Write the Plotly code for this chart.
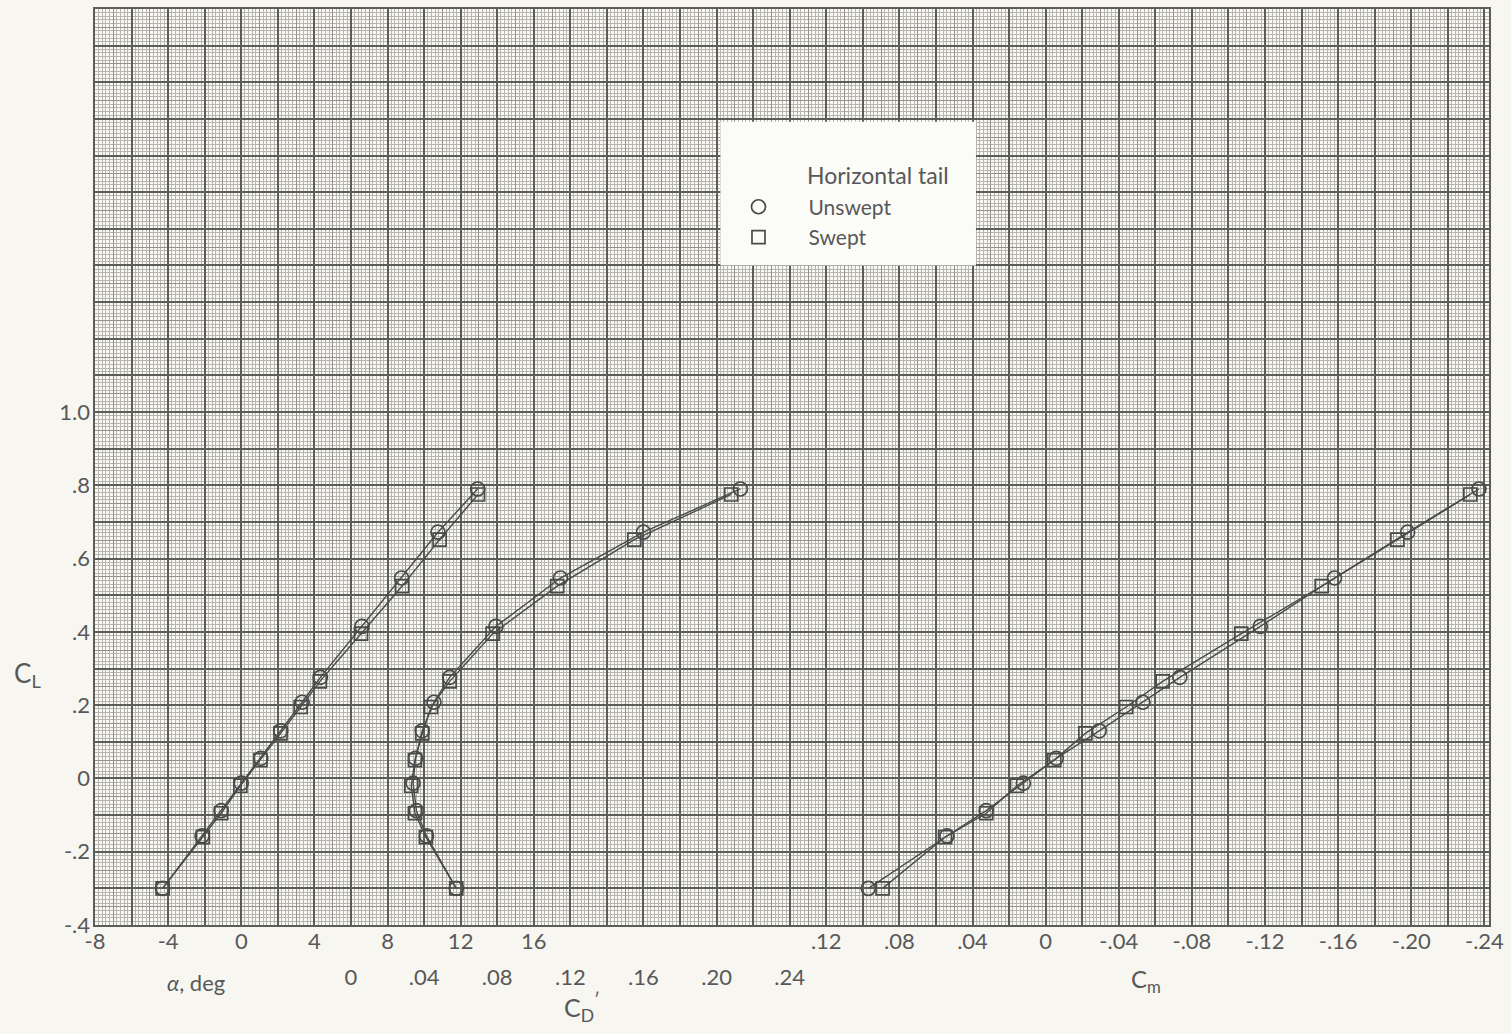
import plotly.graph_objects as go

# ---------------- data ----------------
cl_unswept = [-0.30, -0.157, -0.088, -0.013, 0.055, 0.130, 0.208, 0.276, 0.415, 0.547, 0.672, 0.790]
alpha_unswept = [-4.3, -2.14, -1.10, 0.00, 1.07, 2.16, 3.33, 4.33, 6.60, 8.77, 10.76, 12.93]
cd_unswept = [0.0576, 0.0413, 0.0358, 0.0340, 0.0353, 0.0390, 0.0454, 0.0540, 0.0793, 0.1146, 0.1600, 0.2130]
cm_unswept = [0.0970, 0.0540, 0.0325, 0.0122, -0.0058, -0.0293, -0.0532, -0.0734, -0.1174, -0.1580, -0.1980, -0.2370]

cl_swept = [-0.30, -0.160, -0.095, -0.020, 0.050, 0.123, 0.195, 0.265, 0.395, 0.525, 0.652, 0.775]
alpha_swept = [-4.3, -2.10, -1.10, -0.05, 1.05, 2.15, 3.25, 4.30, 6.55, 8.80, 10.85, 12.95]
cd_swept = [0.0576, 0.0410, 0.0350, 0.0330, 0.0350, 0.0390, 0.0438, 0.0540, 0.0775, 0.1128, 0.1550, 0.2080]
cm_swept = [0.0892, 0.0550, 0.0325, 0.0157, -0.0047, -0.0217, -0.0440, -0.0640, -0.1070, -0.1510, -0.1924, -0.2323]

alpha_ticks = [-8, -4, 0, 4, 8, 12, 16]
alpha_labels = ["-8", "-4", "0", "4", "8", "12", "16"]
cd_ticks = [0, 0.04, 0.08, 0.12, 0.16, 0.20, 0.24]
cd_labels = ["0", ".04", ".08", ".12", ".16", ".20", ".24"]
cm_ticks = [0.12, 0.08, 0.04, 0, -0.04, -0.08, -0.12, -0.16, -0.20, -0.24]
cm_labels = [".12", ".08", ".04", "0", "-.04", "-.08", "-.12", "-.16", "-.20", "-.24"]
cl_ticks = [-0.4, -0.2, 0, 0.2, 0.4, 0.6, 0.8, 1.0]
cl_labels = ["-.4", "-.2", "0", ".2", ".4", ".6", ".8", "1.0"]

# ---------------- scales ----------------
ALPHA_RANGE = [-8, 68.25]
CD_ZERO_AT_ALPHA = 6.0      # C_D' = 0 sits on alpha = 6 deg grid line
CM_ZERO_AT_ALPHA = 44.0     # C_m = 0 sits on alpha = 44 deg grid line
cd_range = [(a - CD_ZERO_AT_ALPHA) / 100 for a in ALPHA_RANGE]
cm_range = [(CM_ZERO_AT_ALPHA - a) / 100 for a in ALPHA_RANGE]
CL_RANGE = [-0.4, 2.1]

W, H = 1511, 1034
ML, MR, MT, MB = 95, 14, 7, 109
PW, PH = W - ML - MR, H - MT - MB


def px(x):
    return (x - ML) / PW


def py(y):
    return (H - MB - y) / PH


INK = "#4a4a4a"
TXT = "#585858"
FONT = "Lato, 'Noto Sans', sans-serif"

fig = go.Figure()

line_style = dict(color=INK, width=1.4)
mk_c = dict(symbol="circle-open", size=14, color=INK, line=dict(width=1.7, color=INK))
mk_s = dict(symbol="square-open", size=13, color=INK, line=dict(width=1.7, color=INK))

# alpha curves
fig.add_trace(go.Scatter(x=alpha_unswept, y=cl_unswept, mode="lines+markers", line=line_style,
                         marker=mk_c, showlegend=False, xaxis="x", yaxis="y"))
fig.add_trace(go.Scatter(x=alpha_swept, y=cl_swept, mode="lines+markers", line=line_style,
                         marker=mk_s, showlegend=False, xaxis="x", yaxis="y"))
# drag curves
fig.add_trace(go.Scatter(x=cd_unswept, y=cl_unswept, mode="lines+markers", line=line_style,
                         marker=mk_c, showlegend=False, xaxis="x2", yaxis="y"))
fig.add_trace(go.Scatter(x=cd_swept, y=cl_swept, mode="lines+markers", line=line_style,
                         marker=mk_s, showlegend=False, xaxis="x2", yaxis="y"))
# moment curves
fig.add_trace(go.Scatter(x=cm_unswept, y=cl_unswept, mode="lines+markers", line=line_style,
                         marker=mk_c, showlegend=False, xaxis="x3", yaxis="y"))
fig.add_trace(go.Scatter(x=cm_swept, y=cl_swept, mode="lines+markers", line=line_style,
                         marker=mk_s, showlegend=False, xaxis="x3", yaxis="y"))
# grid-only overlay subplot (heavy + medium lines of the graph paper)
fig.add_trace(go.Scatter(x=[], y=[], showlegend=False, xaxis="x4", yaxis="y2", hoverinfo="skip"))

# legend entries (markers only)
fig.add_trace(go.Scatter(x=[None], y=[None], mode="markers", marker=mk_c, name="Unswept"))
fig.add_trace(go.Scatter(x=[None], y=[None], mode="markers", marker=mk_s, name="Swept"))

FINE = "#b6b5ae"
MED = "#92918c"
HEAVY = "#5c5c58"
tickfont = dict(family=FONT, size=22, color=TXT)

fig.update_layout(
    width=W, height=H, autosize=False,
    margin=dict(l=ML, r=MR, t=MT, b=MB, pad=0),
    paper_bgcolor="#f7f6f1",
    plot_bgcolor="#f9f8f4",
    font=dict(family=FONT, color=TXT),
    xaxis=dict(range=ALPHA_RANGE, tickmode="array", tickvals=alpha_ticks, ticktext=alpha_labels,
               showgrid=False, zeroline=False, ticks="", tickfont=tickfont, ticklabelstandoff=1,
               showline=False, ticklabeloverflow="allow",
               minor=dict(dtick=0.2, tick0=0, showgrid=True, gridcolor=FINE, gridwidth=0.7, ticks="")),
    xaxis2=dict(range=cd_range, overlaying="x", anchor="y", side="bottom", tickmode="array",
                tickvals=cd_ticks, ticktext=cd_labels, showgrid=False, zeroline=False, ticks="",
                tickfont=tickfont, ticklabelstandoff=37, showline=False, ticklabeloverflow="allow"),
    xaxis3=dict(range=cm_range, overlaying="x", anchor="y", side="bottom", tickmode="array",
                tickvals=cm_ticks, ticktext=cm_labels, showgrid=False, zeroline=False, ticks="",
                tickfont=tickfont, ticklabelstandoff=1, showline=False, ticklabeloverflow="allow"),
    xaxis4=dict(range=ALPHA_RANGE, overlaying="x", anchor="y2", dtick=2, tick0=0, showgrid=True,
                gridcolor=HEAVY, gridwidth=1.5, showticklabels=False, zeroline=False, ticks="",
                showline=True, mirror=True, linecolor=HEAVY, linewidth=1.5,
                minor=dict(dtick=1, tick0=0, showgrid=True, gridcolor=MED, gridwidth=1.0, ticks="")),
    yaxis=dict(range=CL_RANGE, tickmode="array", tickvals=cl_ticks, ticktext=cl_labels,
               showgrid=False, zeroline=False, ticks="", tickfont=tickfont, ticklabelstandoff=4,
               showline=False, ticklabeloverflow="allow",
               minor=dict(dtick=0.01, tick0=0, showgrid=True, gridcolor=FINE, gridwidth=0.7, ticks="")),
    yaxis2=dict(range=CL_RANGE, overlaying="y", anchor="x4", dtick=0.1, tick0=0, showgrid=True,
                gridcolor=HEAVY, gridwidth=1.5, showticklabels=False, zeroline=False, ticks="",
                showline=True, mirror=True, linecolor=HEAVY, linewidth=1.5,
                minor=dict(dtick=0.05, tick0=0, showgrid=True, gridcolor=MED, gridwidth=1.0, ticks="")),
    legend=dict(x=px(712), y=py(185), xanchor="left", yanchor="top", bgcolor="rgba(0,0,0,0)",
                borderwidth=0, font=dict(family=FONT, size=21, color=TXT), itemwidth=90,
                tracegroupgap=0),
    showlegend=True,
)

# legend box
fig.add_shape(type="rect", xref="paper", yref="paper", x0=px(724), x1=px(981), y0=py(264), y1=py(120),
              fillcolor="#fbfbf8", line=dict(width=0), layer="above")

ann = dict(xref="paper", yref="paper", showarrow=False, font=dict(family=FONT, size=23, color=TXT))
fig.add_annotation(text="Horizontal tail", x=px(809), y=py(173), xanchor="left", yanchor="middle", **ann)
fig.add_annotation(text="C<sub>L</sub>", x=px(27), y=py(674), xanchor="center", yanchor="middle",
                   **{**ann, "font": dict(family=FONT, size=26, color=TXT)})
fig.add_annotation(text="<i>α</i>, deg", x=px(197), y=py(983), xanchor="center", yanchor="middle",
                   **{**ann, "font": dict(family=FONT, size=22, color=TXT)})
fig.add_annotation(text="C<sub>D</sub><sup>′</sup>", x=px(585), y=py(1008), xanchor="center", yanchor="middle",
                   **{**ann, "font": dict(family=FONT, size=25, color=TXT)})
fig.add_annotation(text="C<sub>m</sub>", x=px(1152), y=py(981), xanchor="center", yanchor="middle",
                   **{**ann, "font": dict(family=FONT, size=24, color=TXT)})

fig.write_html("out.html")
